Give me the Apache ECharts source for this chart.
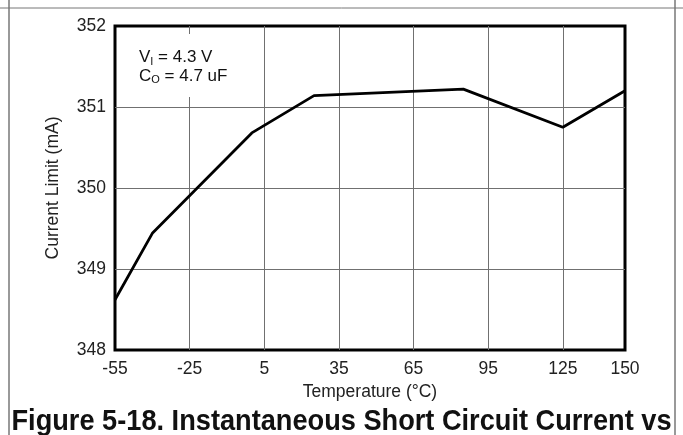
<!DOCTYPE html>
<html>
<head>
<meta charset="utf-8">
<script src="https://cdn.jsdelivr.net/npm/echarts@6/dist/echarts.min.js"></script>
<style>
  html, body { margin: 0; padding: 0; background: #fff; }
  #chart { width: 683px; height: 435px; }
</style>
</head>
<body>
<div id="chart"></div>
<script>
// temperature (°C) and current limit (mA)
var temps = [-55, -40, 0, 25, 85, 125, 150];
var current = [348.62, 349.44, 350.68, 351.14, 351.22, 350.75, 351.2];
var xTicks = [-55, -25, 5, 35, 65, 95, 125, 150];
var yTicks = [348, 349, 350, 351, 352];

var font = "'Liberation Sans', Arial, sans-serif";

var myChart = echarts.init(document.getElementById("chart"));
var option = {
  animation: false,
  grid: {
    left: 115, right: 58, top: 26, bottom: 85,
    show: true, borderColor: "#000", borderWidth: 3, backgroundColor: "#fff"
  },
  xAxis: {
    type: "value",
    min: -55,
    max: 150,
    name: "Temperature (°C)",
    nameLocation: "middle",
    nameGap: 31,
    nameTextStyle: { fontFamily: font, fontSize: 17.5, color: "#222" },
    axisLine: { show: false },
    axisTick: { show: false, customValues: xTicks },
    axisLabel: { customValues: xTicks, fontFamily: font, fontSize: 17.5, color: "#222", margin: 10 },
    splitLine: { show: true, showMinLine: false, showMaxLine: false, lineStyle: { color: "#707070", width: 1 } }
  },
  yAxis: {
    type: "value",
    min: 348,
    max: 352,
    interval: 1,
    name: "Current Limit (mA)",
    nameLocation: "middle",
    nameGap: 53,
    nameTextStyle: { fontFamily: font, fontSize: 17.5, color: "#222" },
    axisLine: { show: false },
    axisTick: { show: false },
    axisLabel: { fontFamily: font, fontSize: 17.5, color: "#222", margin: 9 },
    splitLine: { show: true, showMinLine: false, showMaxLine: false, lineStyle: { color: "#707070", width: 1 } }
  },
  series: [{
    type: "line",
    data: temps.map(function (t, i) { return [t, current[i]]; }),
    showSymbol: false,
    lineStyle: { color: "#000", width: 2.8 },
    z: 3
  }],
  graphic: [
    { type: "line", shape: { x1: 0, y1: 8, x2: 683, y2: 8 }, style: { stroke: "#777", lineWidth: 1 } },
    { type: "line", shape: { x1: 9, y1: 0, x2: 9, y2: 435 }, style: { stroke: "#777", lineWidth: 1.5 } },
    { type: "line", shape: { x1: 675, y1: 0, x2: 675, y2: 435 }, style: { stroke: "#777", lineWidth: 1.5 } },
    { type: "rect", shape: { x: 125, y: 34, width: 125, height: 63 }, style: { fill: "#fff" }, z: 10 },
    {
      type: "text", left: 139, top: 49, z: 11,
      style: {
        text: "{n|V}{s|I}{n| = 4.3 V}\n{n|C}{s|O}{n| = 4.7 uF}",
        fill: "#111",
        rich: {
          n: { fontFamily: font, fontSize: 17, lineHeight: 18.5, fill: "#111" },
          s: { fontFamily: font, fontSize: 11, lineHeight: 18.5, fill: "#111", verticalAlign: "bottom", padding: [7, 0, 0, 0] }
        }
      }
    },
    {
      type: "text", x: 341.5, y: 422, scaleX: 0.906, z: 11,
      style: {
        text: "Figure 5-18. Instantaneous Short Circuit Current vs",
        fontFamily: font, fontSize: 30, fontWeight: "bold", fill: "#111",
        align: "center", verticalAlign: "middle"
      }
    }
  ]
};
myChart.setOption(option);
</script>
</body>
</html>
